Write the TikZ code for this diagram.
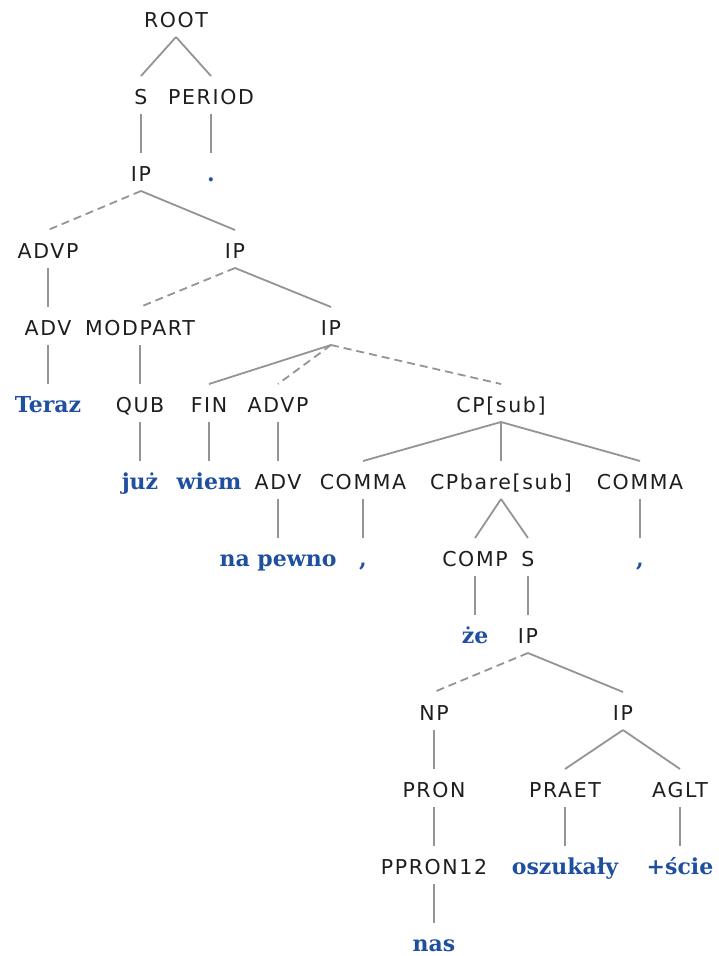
\documentclass[tikz,border=0pt]{standalone}
\usepackage{fontspec}
\newfontfamily\labfont[LetterSpace=8]{DejaVu Sans}
\newfontfamily\wordfont{DejaVu Serif}
\definecolor{labcol}{HTML}{1E1E1E}
\definecolor{wordblue}{HTML}{1F4F9F}
\definecolor{linegray}{HTML}{949494}
\begin{document}
\begin{tikzpicture}[x=1pt,y=-1pt,
  lab/.style={font=\labfont\fontsize{20.5}{24}\selectfont, text=labcol, inner sep=0pt, outer sep=0pt, text height=28pt, text depth=10pt, anchor=base},
  word/.style={lab, font=\wordfont\bfseries\fontsize{22}{26}\selectfont, text=wordblue},
  edge/.style={draw=linegray, line width=1.8pt},
  dedge/.style={edge, dash pattern=on 8pt off 5pt}]
\useasboundingbox (0,0) rectangle (718,956);
% levels: baseline = 27 + 77k
\node[lab] (root) at (176,27) {ROOT};
\node[lab] (s1) at (141,104) {S};
\node[lab] (period) at (211,104) {PERIOD};
\node[lab] (ip1) at (141,181) {IP};
\node[word] (dot) at (211,181) {.};
\node[lab] (advp1) at (48,258) {ADVP};
\node[lab] (ip2) at (235,258) {IP};
\node[lab] (adv1) at (48,335) {ADV};
\node[lab] (modpart) at (140,335) {MODPART};
\node[lab] (ip3) at (331,335) {IP};
\node[word] (teraz) at (48,412) {Teraz};
\node[lab] (qub) at (140,412) {QUB};
\node[lab] (fin) at (209,412) {FIN};
\node[lab] (advp2) at (278,412) {ADVP};
\node[lab] (cpsub) at (501,412) {CP[sub]};
\node[word] (juz) at (140,489) {już};
\node[word] (wiem) at (209,489) {wiem};
\node[lab] (adv2) at (278,489) {ADV};
\node[lab] (comma1) at (363,489) {COMMA};
\node[lab] (cpbare) at (501,489) {CPbare[sub]};
\node[lab] (comma2) at (640,489) {COMMA};
\node[word] (napewno) at (278,566) {na pewno};
\node[word] (c1) at (363,566) {,};
\node[lab] (comp) at (475,566) {COMP};
\node[lab] (s2) at (528,566) {S};
\node[word] (c2) at (640,566) {,};
\node[word] (ze) at (475,643) {że};
\node[lab] (ip4) at (528,643) {IP};
\node[lab] (np) at (434,720) {NP};
\node[lab] (ip5) at (623,720) {IP};
\node[lab] (pron) at (434,797) {PRON};
\node[lab] (praet) at (565,797) {PRAET};
\node[lab] (aglt) at (680,797) {AGLT};
\node[lab] (ppron) at (434,874) {PPRON12};
\node[word] (oszukaly) at (565,874) {oszukały};
\node[word] (scie) at (680,874) {+ście};
\node[word] (nas) at (434,951) {nas};
% edges
\draw[edge] (root.south) -- (s1.north);
\draw[edge] (root.south) -- (period.north);
\draw[edge] (s1.south) -- (ip1.north);
\draw[edge] (period.south) -- (dot.north);
\draw[dedge] (ip1.south) -- (advp1.north);
\draw[edge] (ip1.south) -- (ip2.north);
\draw[edge] (advp1.south) -- (adv1.north);
\draw[dedge] (ip2.south) -- (modpart.north);
\draw[edge] (ip2.south) -- (ip3.north);
\draw[edge] (adv1.south) -- (teraz.north);
\draw[edge] (modpart.south) -- (qub.north);
\draw[edge] (ip3.south) -- (fin.north);
\draw[dedge] (ip3.south) -- (advp2.north);
\draw[dedge] (ip3.south) -- (cpsub.north);
\draw[edge] (qub.south) -- (juz.north);
\draw[edge] (fin.south) -- (wiem.north);
\draw[edge] (advp2.south) -- (adv2.north);
\draw[edge] (cpsub.south) -- (comma1.north);
\draw[edge] (cpsub.south) -- (cpbare.north);
\draw[edge] (cpsub.south) -- (comma2.north);
\draw[edge] (adv2.south) -- (napewno.north);
\draw[edge] (comma1.south) -- (c1.north);
\draw[edge] (cpbare.south) -- (comp.north);
\draw[edge] (cpbare.south) -- (s2.north);
\draw[edge] (comma2.south) -- (c2.north);
\draw[edge] (comp.south) -- (ze.north);
\draw[edge] (s2.south) -- (ip4.north);
\draw[dedge] (ip4.south) -- (np.north);
\draw[edge] (ip4.south) -- (ip5.north);
\draw[edge] (np.south) -- (pron.north);
\draw[edge] (ip5.south) -- (praet.north);
\draw[edge] (ip5.south) -- (aglt.north);
\draw[edge] (pron.south) -- (ppron.north);
\draw[edge] (praet.south) -- (oszukaly.north);
\draw[edge] (aglt.south) -- (scie.north);
\draw[edge] (ppron.south) -- (nas.north);
\end{tikzpicture}
\end{document}
